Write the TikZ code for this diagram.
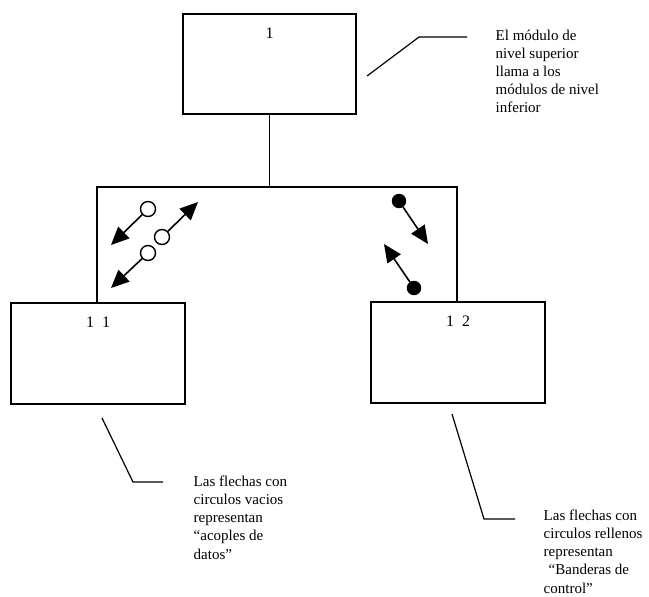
\documentclass[tikz,border=0pt]{standalone}
\usepackage{fontspec}
\setmainfont{Liberation Serif}
\usetikzlibrary{arrows.meta}
\begin{document}
\begin{tikzpicture}[x=1pt,y=-1pt,
  line width=1.4pt,
  modbox/.style={draw, rectangle, minimum width=174pt, minimum height=101pt, inner sep=0pt},
  boxlabel/.style={anchor=north, inner sep=0pt, yshift=-14pt, font=\fontsize{16}{18}\selectfont},
  note/.style={anchor=north west, inner sep=0pt, align=left, font=\fontsize{15}{18.2}\selectfont},
  opencirc/.style={draw, circle, minimum size=15pt, inner sep=0pt, fill=white},
  fullcirc/.style={draw, circle, minimum size=13pt, inner sep=0pt, fill=black},
  flow/.style={-{Triangle[length=18pt,width=16pt]}, line width=1.6pt},
  callout/.style={line width=1.2pt}
]
\useasboundingbox (0,0) rectangle (649,597);

% modules
\node[modbox, minimum width=173pt, minimum height=100pt,
      label={[boxlabel]north:1}] (m1) at (269.5,64) {};
\node[modbox, label={[boxlabel]north:1\hspace{0.5em}1}] (m11) at (98,353.5) {};
\node[modbox, label={[boxlabel]north:1\hspace{0.5em}2}] (m12) at (458,352.5) {};

% call structure
\coordinate (jl) at (97,187);
\coordinate (jr) at (457,187);
\coordinate (jc) at (269.5,187);
\draw (m1.south) -- (jc);
\draw (m11.north -| jl) -- (jl) -- (jr) -- (m12.north -| jr);

% data couples (open circles)
\node[opencirc] (d1) at (148,209) {};
\coordinate (d1e) at (111,245);
\draw[flow] (d1) -- (d1e);
\node[opencirc] (d2) at (162,237) {};
\coordinate (d2e) at (198,202);
\draw[flow] (d2) -- (d2e);
\node[opencirc] (d3) at (148,253) {};
\coordinate (d3e) at (111,288);
\draw[flow] (d3) -- (d3e);

% control flags (filled circles)
\node[fullcirc] (c1) at (399,201) {};
\coordinate (c1e) at (428,244);
\draw[flow] (c1) -- (c1e);
\node[fullcirc] (c2) at (414,288) {};
\coordinate (c2e) at (384,244);
\draw[flow] (c2) -- (c2e);

% notes
\node[note] (t1) at (495,29) {El módulo de\\nivel superior\\llama a los\\módulos de nivel\\inferior};
\node[note] (t2) at (193,475) {Las flechas con\\circulos vacios\\representan\\``acoples de\\datos''};
\node[note] (t3) at (543,509) {Las flechas con\\circulos rellenos\\representan\\\hspace{5pt}``Banderas de\\control''};

% callouts
\coordinate (a1) at (367,76);
\coordinate (a1k) at (419,37);
\coordinate (a1e) at (467,37);
\draw[callout] (a1) -- (a1k) -- (a1e);
\coordinate (a2) at (102,418);
\coordinate (a2k) at (133,482);
\coordinate (a2e) at (163,482);
\draw[callout] (a2) -- (a2k) -- (a2e);
\coordinate (a3) at (452,414);
\coordinate (a3k) at (484,519);
\coordinate (a3e) at (515,519);
\draw[callout] (a3) -- (a3k) -- (a3e);
\end{tikzpicture}
\end{document}
